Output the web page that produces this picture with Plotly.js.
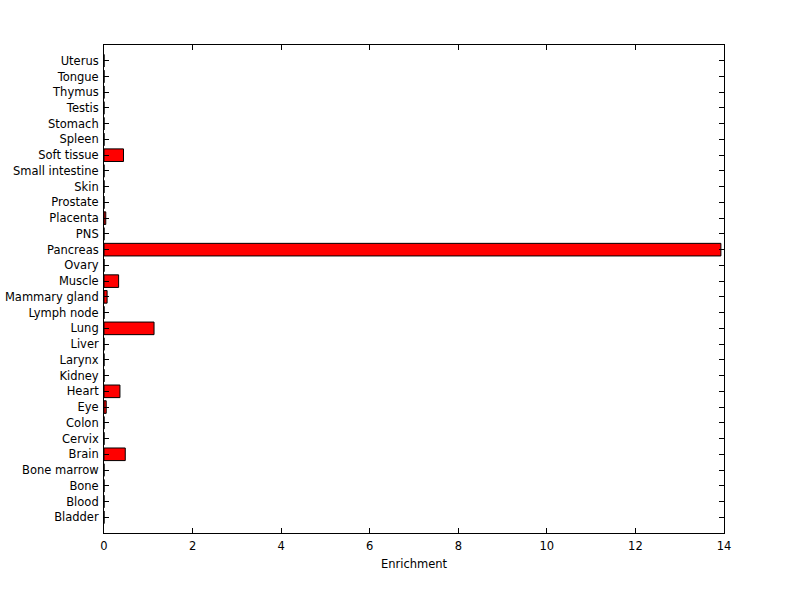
<!DOCTYPE html>
<html>
<head>
<meta charset="utf-8">
<script src="https://cdn.plot.ly/plotly-3.0.1.min.js"></script>
<style>html,body{margin:0;padding:0;background:#fff;}#chart{width:800px;height:599px;}</style>
</head>
<body>
<div id="chart"></div>
<script>
const tissues = ["Bladder","Blood","Bone","Bone marrow","Brain","Cervix","Colon","Eye","Heart","Kidney","Larynx","Liver","Lung","Lymph node","Mammary gland","Muscle","Ovary","Pancreas","PNS","Placenta","Prostate","Skin","Small intestine","Soft tissue","Spleen","Stomach","Testis","Thymus","Tongue","Uterus"];
const enrichment = [0,0,0,0,0.48,0,0,0.05,0.36,0,0,0,1.13,0,0.07,0.33,0,13.93,0,0.04,0,0,0,0.44,0,0,0,0,0,0];
const xTicks = [0,2,4,6,8,10,12,14];

const trace = {
  type: 'bar',
  orientation: 'h',
  x: enrichment,
  y: tissues.map((_, i) => i),
  marker: {color: '#ff0000', line: {color: '#000000', width: 1}},
  width: 0.8,
  hoverinfo: 'x+text',
  text: tissues,
  textposition: 'none'
};

const layout = {
  width: 800, height: 599,
  margin: {l: 104, r: 76, t: 45, b: 66},
  paper_bgcolor: '#ffffff', plot_bgcolor: '#ffffff',
  showlegend: false,
  font: {family: 'DejaVu Sans, sans-serif', size: 11.5, color: '#000'},
  xaxis: {
    range: [0, 14], tickvals: xTicks, ticktext: xTicks.map(String),
    ticks: 'inside', ticklen: 5, tickcolor: '#000', tickwidth: 1,
    showline: true, linecolor: '#000', linewidth: 1, mirror: 'allticks',
    showgrid: false, zeroline: false, ticklabelstandoff: 2,
    title: {text: 'Enrichment', font: {size: 11.5}, standoff: 8}
  },
  yaxis: {
    range: [-1, 30], tickvals: tissues.map((_, i) => i), ticktext: tissues,
    ticks: 'inside', ticklen: 5, tickcolor: '#000', tickwidth: 1,
    showline: true, linecolor: '#000', linewidth: 1, mirror: 'allticks',
    showgrid: false, zeroline: false, ticklabelstandoff: 2
  }
};

Plotly.newPlot('chart', [trace], layout, {displayModeBar: false, staticPlot: true});
</script>
</body>
</html>
